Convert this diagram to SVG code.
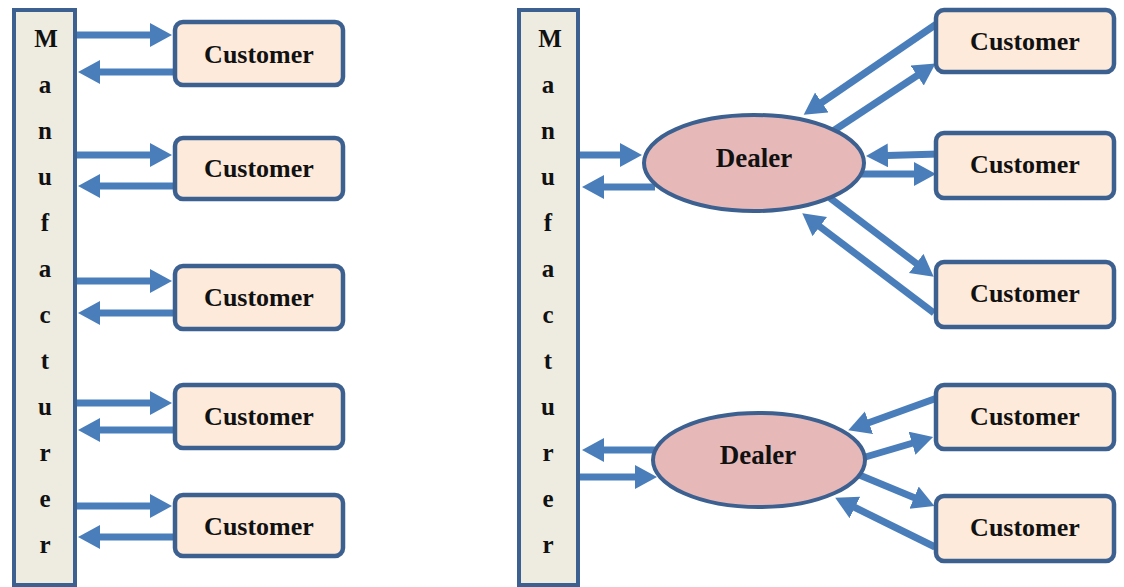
<svg xmlns="http://www.w3.org/2000/svg" width="1124" height="587" viewBox="0 0 1124 587">
<defs>
<marker id="ah" markerUnits="userSpaceOnUse" markerWidth="24" markerHeight="26" refX="1" refY="12" orient="auto">
<path d="M0,0 L22,12 L0,24 z" fill="#4A7EBB"/>
</marker>
<style>
.bar{fill:#EEECE1;stroke:#3C6090;stroke-width:4}
.cust{fill:#FDEADA;stroke:#3C6090;stroke-width:4.5}
.dealer{fill:#E6B9B8;stroke:#3C6090;stroke-width:4}
.t{font-family:"Liberation Serif","Times New Roman",serif;font-weight:bold;fill:#111;text-anchor:middle}
.ct{font-size:26px}
.dt{font-size:27px}
.lt{font-size:25px}
.c path{fill:none;stroke:#4A7EBB;stroke-width:7;marker-end:url(#ah)}
</style>
</defs>
<rect width="1124" height="587" fill="#fff"/>
<g class="c" id="connectors">
<path d="M77,35 H151"/>
<path d="M175,72 H99"/>
<path d="M77,155 H151"/>
<path d="M175,186 H99"/>
<path d="M77,281 H151"/>
<path d="M175,313 H99"/>
<path d="M77,403 H151"/>
<path d="M175,430 H99"/>
<path d="M77,506 H151"/>
<path d="M175,537 H99"/>
<path d="M580,155 H621"/>
<path d="M655,187 H603"/>
<path d="M655,450 H603"/>
<path d="M580,477 H636"/>
<path d="M938,23 L821,103"/>
<path d="M830,133 L918,75"/>
<path d="M939,154 L887,155.5"/>
<path d="M860,174 H915"/>
<path d="M830,198 L917,264"/>
<path d="M934,313 L819,226"/>
<path d="M937,398 L868,423"/>
<path d="M862,458 L913,443"/>
<path d="M857,474 L915,498"/>
<path d="M935,547 L854,507"/>
</g>
<g id="manufacturer1">
<rect class="bar" x="14" y="10" width="61" height="575"/>
<text class="t lt" x="45"><tspan x="46" y="47">M</tspan><tspan x="45" y="93">a</tspan><tspan x="45" y="139">n</tspan><tspan x="45" y="185">u</tspan><tspan x="45" y="231">f</tspan><tspan x="45" y="277">a</tspan><tspan x="45" y="323">c</tspan><tspan x="45" y="369">t</tspan><tspan x="45" y="415">u</tspan><tspan x="45" y="461">r</tspan><tspan x="45" y="507">e</tspan><tspan x="45" y="553">r</tspan></text>
</g>
<g id="manufacturer2">
<rect class="bar" x="519" y="10" width="59" height="575"/>
<text class="t lt"><tspan x="550" y="47">M</tspan><tspan x="548" y="93">a</tspan><tspan x="548" y="139">n</tspan><tspan x="548" y="185">u</tspan><tspan x="548" y="231">f</tspan><tspan x="548" y="277">a</tspan><tspan x="548" y="323">c</tspan><tspan x="548" y="369">t</tspan><tspan x="548" y="415">u</tspan><tspan x="548" y="461">r</tspan><tspan x="548" y="507">e</tspan><tspan x="548" y="553">r</tspan></text>
</g>
<g id="cl1"><rect class="cust" x="175" y="22" width="168" height="63" rx="8"/><text class="t ct" x="259" y="63">Customer</text></g>
<g id="cl2"><rect class="cust" x="175" y="138" width="168" height="61" rx="8"/><text class="t ct" x="259" y="177">Customer</text></g>
<g id="cl3"><rect class="cust" x="175" y="266" width="168" height="63" rx="8"/><text class="t ct" x="259" y="306">Customer</text></g>
<g id="cl4"><rect class="cust" x="175" y="385" width="168" height="63" rx="8"/><text class="t ct" x="259" y="425">Customer</text></g>
<g id="cl5"><rect class="cust" x="175" y="495" width="168" height="61" rx="8"/><text class="t ct" x="259" y="535">Customer</text></g>
<g id="dealer1"><ellipse class="dealer" cx="754" cy="163" rx="110" ry="48"/><text class="t dt" x="754" y="167">Dealer</text></g>
<g id="dealer2"><ellipse class="dealer" cx="759" cy="460" rx="106" ry="47"/><text class="t dt" x="758" y="464">Dealer</text></g>
<g id="cr1"><rect class="cust" x="936" y="10" width="178" height="62" rx="8"/><text class="t ct" x="1025" y="50">Customer</text></g>
<g id="cr2"><rect class="cust" x="936" y="133" width="178" height="65" rx="8"/><text class="t ct" x="1025" y="173">Customer</text></g>
<g id="cr3"><rect class="cust" x="936" y="262" width="178" height="65" rx="8"/><text class="t ct" x="1025" y="302">Customer</text></g>
<g id="cr4"><rect class="cust" x="936" y="385" width="178" height="64" rx="8"/><text class="t ct" x="1025" y="425">Customer</text></g>
<g id="cr5"><rect class="cust" x="936" y="496" width="178" height="65" rx="8"/><text class="t ct" x="1025" y="536">Customer</text></g>
</svg>
